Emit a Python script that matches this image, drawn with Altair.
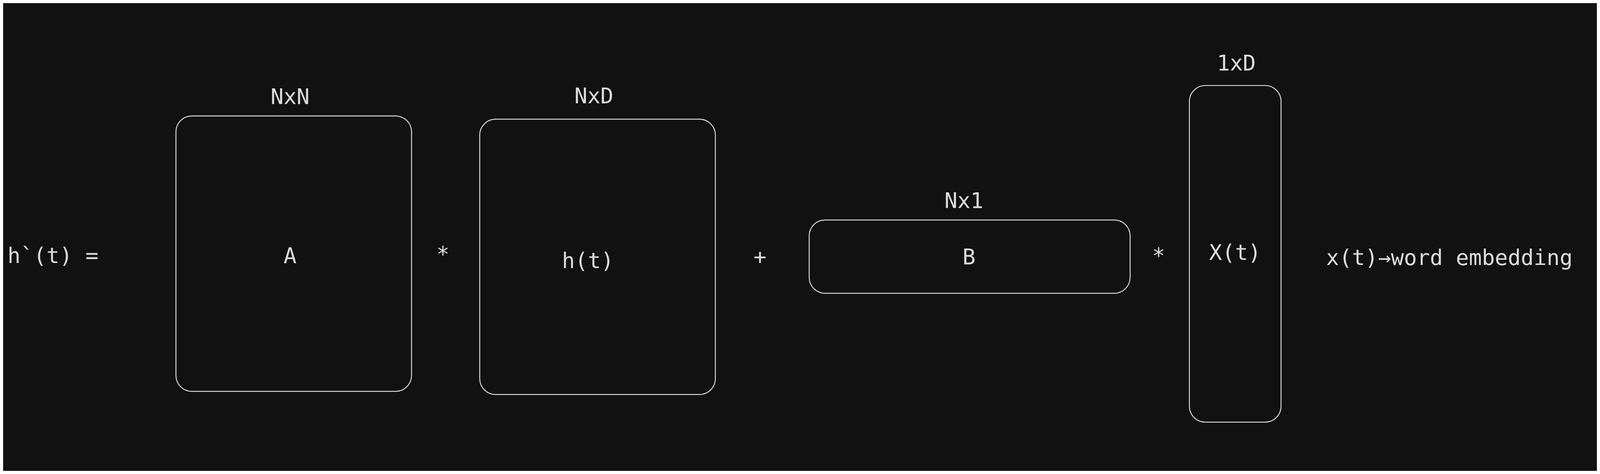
import altair as alt
import pandas as pd

box_names = ["A", "h", "B", "X"]
box_x1 = [553, 1511, 2550, 3749]
box_x2 = [1296, 2254, 3562, 4038]
box_y1 = [225, 235, 553, 129]
box_y2 = [1093, 1103, 784, 1190]

labels = ["NxN", "NxD", "Nx1", "1xD", "A", "h(t)", "B", "X(t)", "*", "+", "*"]
label_x = [913, 1871, 3038, 3897, 913, 1852, 3054, 3893, 1395, 2395, 3652]
label_y = [167, 164, 495, 61, 669, 685, 672, 659, 665, 672, 670]

left_text = ["h`(t) =", "x(t)→word embedding"]
left_x = [22, 4180]
left_y = [669, 675]

W, H = 5026, 1197
xs = alt.Scale(domain=[8, 8 + W], nice=False, zero=False)
ys = alt.Scale(domain=[8 + H, 8], nice=False, zero=False)

boxes = pd.DataFrame(dict(n=box_names, x1=box_x1, x2=box_x2, y1=box_y1, y2=box_y2))
lab = pd.DataFrame(dict(t=labels, x=label_x, y=label_y))
lt = pd.DataFrame(dict(t=left_text, x=left_x, y=left_y))

rects = alt.Chart(boxes).mark_rect(fill=None, stroke="#d8d8d8", strokeWidth=3, cornerRadius=50).encode(
    x=alt.X("x1:Q", scale=xs, axis=None), x2="x2", y=alt.Y("y1:Q", scale=ys, axis=None), y2="y2")
txt = alt.Chart(lab).mark_text(font="DejaVu Sans Mono", fontSize=68, color="#dcdcdc", align="center", baseline="middle").encode(
    x=alt.X("x:Q", scale=xs, axis=None), y=alt.Y("y:Q", scale=ys, axis=None), text="t")
txt2 = alt.Chart(lt).mark_text(font="DejaVu Sans Mono", fontSize=68, color="#dcdcdc", align="left", baseline="middle").encode(
    x=alt.X("x:Q", scale=xs, axis=None), y=alt.Y("y:Q", scale=ys, axis=None), text="t")

chart = (rects + txt + txt2).properties(width=W, height=H, background="#111111", padding=0,
    autosize=alt.AutoSizeParams(type="fit", contains="padding")).configure_view(stroke=None)
chart.save("out.html", embed_options={"renderer": "svg", "actions": False})
